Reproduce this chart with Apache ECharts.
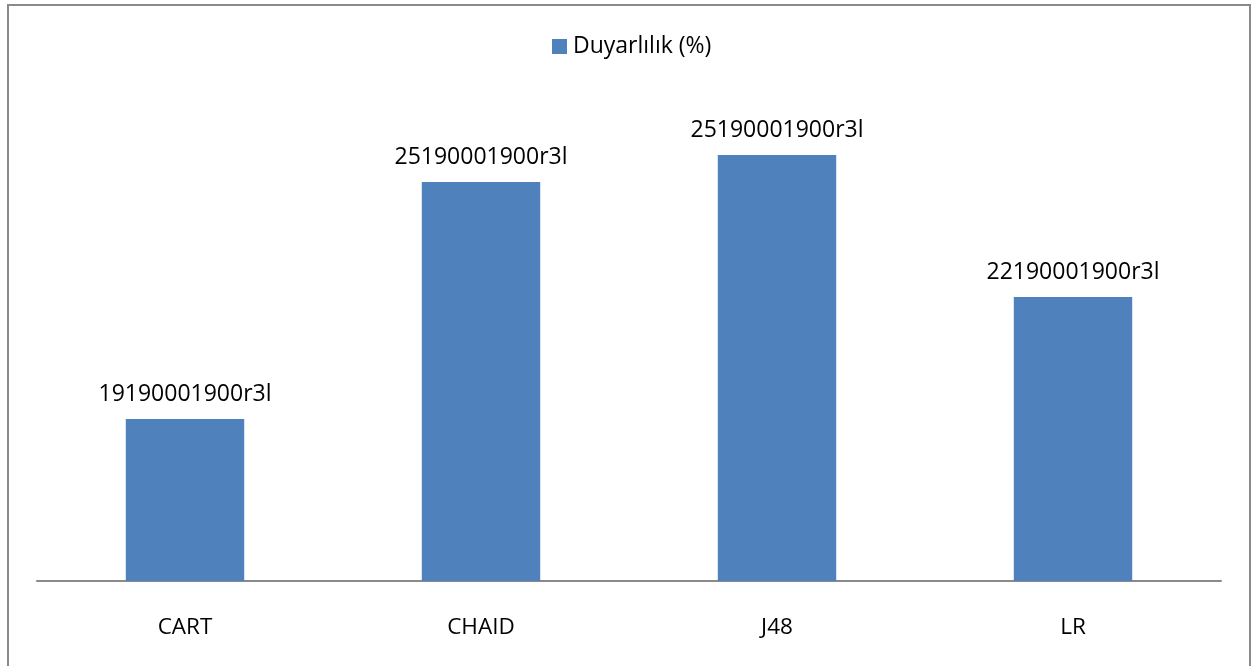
<!DOCTYPE html>
<html>
<head>
<meta charset="utf-8">
<script src="https://cdn.jsdelivr.net/npm/echarts@6/dist/echarts.min.js"></script>
<style>
  html, body { margin: 0; padding: 0; background: #ffffff; }
  #chart { width: 1256px; height: 666px; }
</style>
</head>
<body>
<div id="chart"></div>
<script>
// Categories (models) and sensitivity values
const categories = ['CART', 'CHAID', 'J48', 'LR'];
const sensitivity = [32.4, 79.8, 85.2, 56.8];
// Text shown above each bar
const barLabels = ['19190001900r3l', '25190001900r3l', '25190001900r3l', '22190001900r3l'];
const seriesName = 'Duyarlılık (%)';

const chart = echarts.init(document.getElementById('chart'), null, { renderer: 'canvas' });

const font = '"Open Sans", "Liberation Sans", sans-serif';

chart.setOption({
  backgroundColor: '#ffffff',
  animation: false,
  graphic: [{
    type: 'rect',
    shape: { x: 8, y: 5, width: 1242, height: 700 },
    style: { fill: 'none', stroke: '#8a8a8a', lineWidth: 2 },
    silent: true
  }],
  legend: {
    data: [seriesName],
    top: 30,
    left: 547,
    icon: 'rect',
    itemWidth: 15,
    itemHeight: 15,
    itemGap: 5,
    textStyle: { fontFamily: font, fontSize: 23, color: '#000000', padding: [0, 0, 0, 1] }
  },
  grid: { left: 37, right: 35, top: 81, bottom: 85, containLabel: false },
  xAxis: {
    type: 'category',
    data: categories,
    axisLine: { show: true, lineStyle: { color: '#8a8a8a', width: 2 } },
    axisTick: { show: false },
    axisLabel: { fontFamily: font, fontSize: 22.5, color: '#000000', margin: 35 }
  },
  yAxis: {
    type: 'value',
    min: 0,
    max: 100,
    show: false
  },
  series: [{
    name: seriesName,
    type: 'bar',
    data: sensitivity,
    barWidth: '40%',
    itemStyle: { color: '#4F81BD' },
    label: {
      show: true,
      position: 'top',
      distance: 13,
      fontFamily: font,
      fontSize: 23,
      color: '#000000',
      formatter: p => barLabels[p.dataIndex]
    }
  }]
});
</script>
</body>
</html>
